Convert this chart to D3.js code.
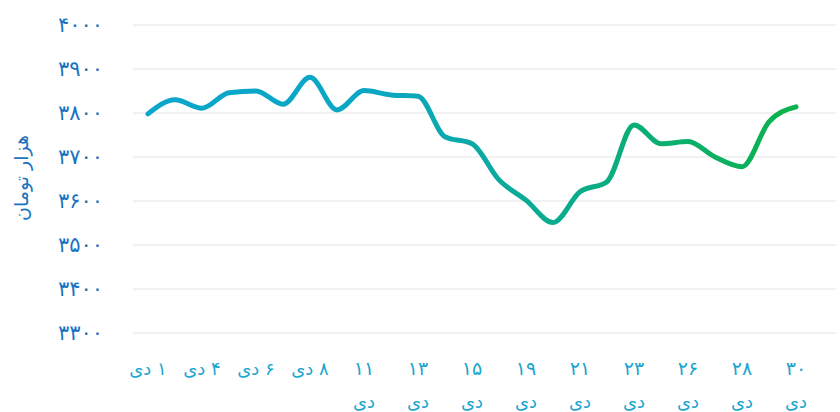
<!DOCTYPE html>
<html lang="fa">
<head>
  <meta charset="utf-8">
  <title>قیمت</title>
  <script src="https://cdn.jsdelivr.net/npm/d3@7"></script>
  <style>
    * { margin: 0; padding: 0; box-sizing: border-box; }
    body { background: #fff; font-family: "DejaVu Sans", sans-serif; }
    svg { display: block; }
  </style>
</head>
<body>
  <svg id="chart" width="840" height="412"></svg>
  <script>
    // days of دی (only every other one is labelled on the axis)
    const days = ["۱", "۳", "۴", "۵", "۶", "۷", "۸", "۱۰", "۱۱", "۱۲", "۱۳", "۱۴", "۱۵",
                  "۱۷", "۱۹", "۲۰", "۲۱", "۲۲", "۲۳", "۲۵", "۲۶", "۲۷", "۲۸", "۲۹", "۳۰"];
    const prices = [3798, 3830, 3811, 3846, 3850, 3820, 3881, 3807, 3851, 3841, 3838, 3746, 3730,
                    3648, 3602, 3551, 3621, 3644, 3773, 3730, 3735, 3700, 3678, 3780, 3814];
    const yTicks = [3300, 3400, 3500, 3600, 3700, 3800, 3900, 4000];
    const yTitle = "هزار تومان";

    const toFa = (n) => String(n).replace(/\d/g, (d) => "۰۱۲۳۴۵۶۷۸۹"[d]);

    const svg = d3.select("#chart");
    const x0 = 133, x1 = 836;

    const x = d3.scalePoint().domain(d3.range(days.length)).range([148, 796]);
    const y = d3.scaleLinear().domain([3300, 4000]).range([333, 25]);

    // grid
    svg.append("g")
      .selectAll("line")
      .data(yTicks)
      .join("line")
      .attr("x1", x0).attr("x2", x1)
      .attr("y1", (d) => y(d)).attr("y2", (d) => y(d))
      .attr("stroke", "#ededed")
      .attr("stroke-width", 1.5);

    // y labels
    svg.append("g")
      .selectAll("text")
      .data(yTicks)
      .join("text")
      .attr("x", 103)
      .attr("y", (d) => y(d))
      .attr("dy", "0.35em")
      .attr("text-anchor", "end")
      .attr("fill", "#1a74c2")
      .attr("font-size", 21)
      .attr("letter-spacing", 4)
      .text((d) => toFa(d));

    svg.append("text")
      .attr("transform", "translate(28,178) rotate(-90)")
      .attr("text-anchor", "middle")
      .attr("fill", "#1a74c2")
      .attr("font-size", 19)
      .text(yTitle);

    // x labels: every other day, first four on one line
    const labelled = d3.range(0, days.length, 2);
    const xl = svg.append("g")
      .selectAll("g")
      .data(labelled)
      .join("g")
      .attr("transform", (i) => `translate(${x(i)},0)`);

    xl.each(function (i, k) {
      const g = d3.select(this);
      if (k < 4) {
        g.append("text")
          .attr("y", 375)
          .attr("text-anchor", "middle")
          .attr("direction", "rtl")
          .attr("fill", "#1aa6cf")
          .attr("font-size", 18)
          .text(days[i] + " دی");
      } else {
        g.append("text")
          .attr("y", 375)
          .attr("text-anchor", "middle")
          .attr("fill", "#1aa6cf")
          .attr("font-size", 19)
          .attr("letter-spacing", 4)
          .text(days[i]);
        g.append("text")
          .attr("y", 408)
          .attr("text-anchor", "middle")
          .attr("fill", "#1aa6cf")
          .attr("font-size", 18)
          .text("دی");
      }
    });

    // gradient line
    const grad = svg.append("defs").append("linearGradient")
      .attr("id", "lineGrad")
      .attr("gradientUnits", "userSpaceOnUse")
      .attr("x1", 148).attr("x2", 796).attr("y1", 0).attr("y2", 0);
    grad.append("stop").attr("offset", "0%").attr("stop-color", "#0aa6cc");
    grad.append("stop").attr("offset", "35%").attr("stop-color", "#0aa7c4");
    grad.append("stop").attr("offset", "60%").attr("stop-color", "#0aab93");
    grad.append("stop").attr("offset", "100%").attr("stop-color", "#0bb24c");

    const line = d3.line()
      .x((d, i) => x(i))
      .y((d) => y(d))
      .curve(d3.curveMonotoneX);

    svg.append("path")
      .datum(prices)
      .attr("d", line)
      .attr("fill", "none")
      .attr("stroke", "url(#lineGrad)")
      .attr("stroke-width", 5)
      .attr("stroke-linecap", "round")
      .attr("stroke-linejoin", "round");
  </script>
</body>
</html>
